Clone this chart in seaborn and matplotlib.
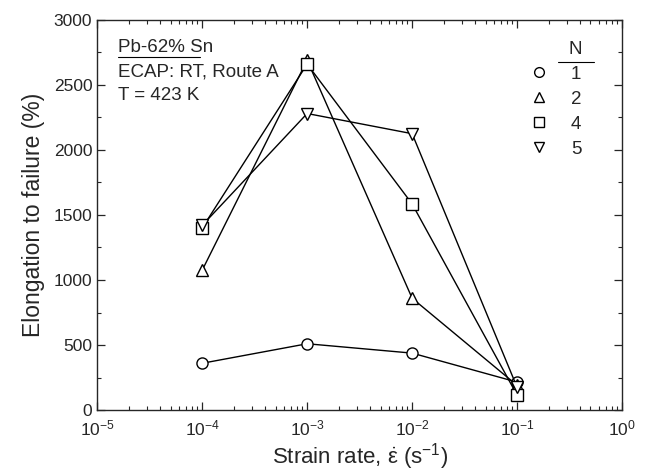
import numpy as np
import pandas as pd
import matplotlib
matplotlib.use("Agg")
import matplotlib.pyplot as plt
import matplotlib.ticker as mticker
from matplotlib.lines import Line2D
import seaborn as sns

# values
strain_rate = [1e-4, 1e-3, 1e-2, 1e-1]
n_passes = ["1", "2", "4", "5"]
elong_n1 = [360, 510, 438, 215]
elong_n2 = [1075, 2690, 860, 190]
elong_n4 = [1400, 2660, 1585, 115]
elong_n5 = [1420, 2280, 2125, 175]
series_markers = {"1": "o", "2": "^", "4": "s", "5": "v"}

rows = []
for n, vals in zip(n_passes, [elong_n1, elong_n2, elong_n4, elong_n5]):
    for x, y in zip(strain_rate, vals):
        rows.append({"rate": x, "elong": y, "N": n})
df = pd.DataFrame(rows)

sns.set_style("ticks")
plt.rcParams["font.family"] = ["Liberation Sans", "DejaVu Sans"]
plt.rcParams["mathtext.fontset"] = "custom"
plt.rcParams["mathtext.rm"] = "Liberation Sans"
plt.rcParams["mathtext.it"] = "Liberation Sans"
plt.rcParams["mathtext.bf"] = "Liberation Sans:bold"

fig = plt.figure(figsize=(6.48, 4.73), dpi=100)
ax = fig.add_axes([0.150, 0.133, 0.810, 0.825])

sns.lineplot(data=df, x="rate", y="elong", hue="N", style="N",
             palette={n: "black" for n in n_passes}, markers=series_markers,
             dashes=False, markersize=8, markerfacecolor="white",
             markeredgecolor="black", markeredgewidth=1.0, linewidth=1.0,
             legend=False, ax=ax, sort=False)

ax.set_xscale("log")
ax.set_xlim(1e-5, 1)
ax.set_ylim(0, 3000)
ax.yaxis.set_major_locator(mticker.MultipleLocator(500))
ax.yaxis.set_minor_locator(mticker.MultipleLocator(250))
ax.xaxis.set_minor_locator(mticker.LogLocator(base=10, subs=np.arange(2, 10)))
ax.xaxis.set_minor_formatter(mticker.NullFormatter())
ax.tick_params(which="both", direction="in", top=True, right=True, labelsize=12.5)
ax.tick_params(which="major", length=6, width=0.9)
ax.tick_params(axis="x", which="major", pad=6)
ax.tick_params(which="minor", length=3, width=0.8)
for s in ax.spines.values():
    s.set_linewidth(1.0)

ax.set_xlabel(r"Strain rate, $\dot{\epsilon}$ (s$^{-1}$)", fontsize=16, labelpad=2)
ax.set_ylabel("Elongation to failure (%)", fontsize=16.5, labelpad=6)

# annotation block, first line underlined
ax.text(0.04, 0.930, "Pb-62% Sn", transform=ax.transAxes, fontsize=13.5, va="center")
ax.plot([0.04, 0.195], [0.904, 0.904], transform=ax.transAxes, color="black", lw=0.8)
ax.text(0.04, 0.866, "ECAP: RT, Route A", transform=ax.transAxes, fontsize=13.5, va="center")
ax.text(0.04, 0.806, "T = 423 K", transform=ax.transAxes, fontsize=13.5, va="center")

handles = [Line2D([], [], linestyle="none", marker=series_markers[n], markersize=7,
                  markerfacecolor="white", markeredgecolor="black") for n in n_passes]
leg = ax.legend(handles, n_passes, title="N", loc="upper right",
                bbox_to_anchor=(0.955, 0.99), frameon=False, fontsize=13.5,
                title_fontsize=13.5, handletextpad=1.2, labelspacing=0.42,
                handlelength=1.0, alignment="right")
ax.plot([0.878, 0.947], [0.892, 0.892], transform=ax.transAxes, color="black", lw=0.8)

fig.savefig("out.png", dpi=100)
